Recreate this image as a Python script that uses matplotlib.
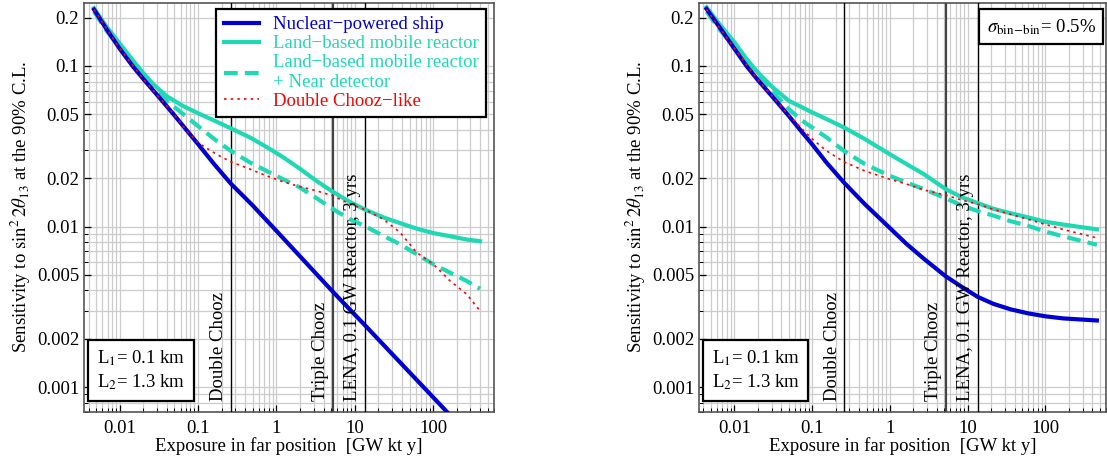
"""Sensitivity to sin^2 2theta13 vs. far-detector exposure: two panels
(left: no bin-to-bin error, right: sigma_bin-bin = 0.5%)."""
import matplotlib

matplotlib.use("Agg")
import matplotlib.pyplot as plt
from matplotlib.ticker import FixedLocator, LogLocator, NullFormatter

plt.rcParams["font.family"] = ["Liberation Serif", "DejaVu Serif"]
plt.rcParams["mathtext.fontset"] = "stix"

# --- data (exposure in GW kt y, sensitivity) ---
# left panel, no bin-to-bin error
ship_x_l = [0.0047, 0.00676, 0.01, 0.0148, 0.02, 0.03, 0.05, 0.1, 0.16, 0.262, 0.5, 1.0, 5.32, 13.8, 150]
ship_y_l = [0.2245, 0.170, 0.128, 0.0990, 0.0830, 0.0660, 0.0492, 0.0326, 0.0245, 0.0185, 0.0135, 0.0094,
            0.0039, 0.0024, 0.000702]

land_x_l = [0.0047, 0.00676, 0.01, 0.0148, 0.02, 0.0267, 0.0395, 0.0644, 0.105, 0.172, 0.262, 0.458,
            0.748, 1.22, 2.0, 3.26, 5.32, 8.7, 13.8, 23.2, 37.8, 61.8, 101, 165, 269, 398]
land_y_l = [0.229, 0.176, 0.138, 0.108, 0.0903, 0.0770, 0.0650, 0.0563, 0.0502, 0.0450, 0.0409, 0.0359,
            0.0313, 0.0270, 0.0229, 0.0192, 0.0164, 0.0142, 0.0127, 0.0114, 0.0105, 0.0097, 0.0091, 0.0087,
            0.0083, 0.0081]

near_x_l = [0.0047, 0.00676, 0.01, 0.0148, 0.02, 0.0267, 0.0395, 0.0644, 0.105, 0.172, 0.262, 0.458,
            0.748, 1.22, 2.0, 3.26, 5.32, 8.7, 13.8, 23.2, 37.8, 61.8, 101, 165, 269, 398]
near_y_l = [0.218, 0.166, 0.1306, 0.1028, 0.0849, 0.0726, 0.0608, 0.0502, 0.0414, 0.0342, 0.0296, 0.0251,
            0.0222, 0.0197, 0.0175, 0.0150, 0.0128, 0.0111, 0.0100, 0.00875, 0.00776, 0.00672, 0.00582,
            0.00516, 0.00458, 0.00410]

dc_x_l = [0.0047, 0.01, 0.02, 0.030, 0.050, 0.0711, 0.105, 0.172, 0.262, 0.458, 0.748, 1.22, 2.0, 3.26,
          5.32, 8.7, 13.8, 23.2, 37.8, 61.8, 101, 165, 269, 398]
dc_y_l = [0.2245, 0.1288, 0.0830, 0.0660, 0.0495, 0.0395, 0.0327, 0.0282, 0.0253, 0.0228, 0.0207, 0.0190,
          0.0177, 0.0167, 0.0155, 0.0138, 0.0127, 0.0111, 0.0092, 0.00689, 0.00582, 0.00458, 0.00379,
          0.00298]

# right panel, sigma_bin-bin = 0.5%
ship_x_r = [0.00438, 0.00662, 0.01, 0.0143, 0.0199, 0.0301, 0.0498, 0.0744, 0.100, 0.153, 0.256, 0.474,
            0.995, 1.63, 2.73, 5.21, 8.45, 13.4, 21.4, 35.7, 59.8, 100, 167, 458]
ship_y_r = [0.2267, 0.171, 0.128, 0.1000, 0.0820, 0.0652, 0.0490, 0.0386, 0.0325, 0.0250, 0.0188, 0.0138,
            0.0098, 0.0078, 0.0063, 0.0049, 0.0042, 0.00365, 0.00330, 0.00305, 0.00288, 0.00276,
            0.00268, 0.00260]

land_x_r = ship_x_r
land_y_r = [0.232, 0.179, 0.1405, 0.1107, 0.0913, 0.0746, 0.0608, 0.0552, 0.0514, 0.0467, 0.0414, 0.0351,
            0.0282, 0.0245, 0.0212, 0.0171, 0.0152, 0.0140, 0.0129, 0.0121, 0.0114, 0.0107, 0.0103, 0.0096]

near_x_r = ship_x_r
near_y_r = [0.218, 0.166, 0.1306, 0.1028, 0.0849, 0.0701, 0.0540, 0.0456, 0.0414, 0.0359, 0.0296, 0.0245,
            0.0207, 0.0188, 0.0171, 0.0150, 0.0135, 0.0125, 0.0117, 0.0108, 0.0101, 0.0093, 0.0087, 0.0077]

dc_x_r = [0.00438, 0.01, 0.0199, 0.0301, 0.0498, 0.0744, 0.100, 0.153, 0.256, 0.474, 0.995, 1.63, 2.73,
          5.21, 8.45, 13.4, 21.4, 35.7, 59.8, 100, 167, 458]
dc_y_r = [0.2245, 0.1288, 0.0825, 0.0655, 0.0495, 0.0405, 0.0351, 0.0296, 0.0253, 0.0222, 0.0197, 0.0184,
          0.0169, 0.0157, 0.0146, 0.0138, 0.0128, 0.0119, 0.0111, 0.0103, 0.0096, 0.0085]

# reference experiments (vertical lines)
exp_names = ["Double Chooz", "Triple Chooz", "LENA, 0.1 GW Reactor, 3 yrs"]
exp_exposure = [0.26, 5.2, 13.4]

x_ticks = [0.01, 0.1, 1, 10, 100]
x_tick_labels = ["0.01", "0.1", "1", "10", "100"]
y_ticks = [0.001, 0.002, 0.005, 0.01, 0.02, 0.05, 0.1, 0.2]
y_tick_labels = ["0.001", "0.002", "0.005", "0.01", "0.02", "0.05", "0.1", "0.2"]

BLUE = "#0000d0"
TEAL = "#1fd9b5"
RED = "#ff0000"
FS = 13.5


def draw_panel(ax, ship, land, near, dc):
    ax.set_xscale("log")
    ax.set_yscale("log")
    ax.set_xlim(0.0035, 600)
    ax.set_ylim(0.0007, 0.248)

    ax.grid(True, which="both", color="#cccccc", lw=0.9, zorder=0)

    ax.plot(*ship, color=BLUE, lw=3, solid_joinstyle="round", label="Nuclear\u2212powered ship", zorder=5)
    ax.plot(*land, color=TEAL, lw=3, solid_joinstyle="round", label="Land\u2212based mobile reactor", zorder=4)
    ax.plot(*near, color=TEAL, lw=3, ls=(0, (3.3, 1.7)),
            label="Land\u2212based mobile reactor\n+ Near detector", zorder=4)
    ax.plot(*dc, color=RED, lw=1.2, ls=(0, (1.5, 2.5)), label="Double Chooz\u2212like", zorder=6)

    for name, xv in zip(exp_names, exp_exposure):
        is_triple = name.startswith("Triple")
        ax.axvline(xv, color="#444444" if is_triple else "black", lw=1.6 if is_triple else 1.0, zorder=3)
        ax.text(xv / 1.1, 0.00082, name, rotation=90, ha="right", va="bottom",
                fontsize=FS, zorder=7)

    ax.xaxis.set_major_locator(FixedLocator(x_ticks))
    ax.set_xticklabels(x_tick_labels)
    ax.xaxis.set_minor_locator(LogLocator(base=10, subs=range(2, 10), numticks=20))
    ax.xaxis.set_minor_formatter(NullFormatter())
    ax.yaxis.set_major_locator(FixedLocator(y_ticks))
    ax.set_yticklabels(y_tick_labels)
    ax.yaxis.set_minor_locator(LogLocator(base=10, subs=range(2, 10), numticks=20))
    ax.yaxis.set_minor_formatter(NullFormatter())
    ax.tick_params(which="both", direction="in", labelsize=FS, color="black")
    ax.tick_params(which="major", length=5, width=0.9)
    ax.tick_params(which="minor", length=3, width=0.7)
    ax.tick_params(axis="x", pad=6)

    for sp in ax.spines.values():
        sp.set_color("#555555")
        sp.set_linewidth(1.2)

    ax.set_xlabel("Exposure in far position  [GW kt y]", fontsize=FS, labelpad=0)
    ax.set_ylabel(r"Sensitivity to $\sin^2 2\theta_{13}$ at the 90% C.L.", fontsize=FS, labelpad=3)

    ax.text(0.031, 0.048, "L$_1$= 0.1 km\nL$_2$= 1.3 km", transform=ax.transAxes,
            fontsize=FS, linespacing=1.3, ha="left", va="bottom", zorder=8,
            bbox=dict(boxstyle="square,pad=0.45", fc="white", ec="black", lw=1.6))


fig = plt.figure(figsize=(11.07, 4.61), dpi=100)
ax_l = fig.add_axes([0.0759, 0.1063, 0.3704, 0.888])
ax_r = fig.add_axes([0.6314, 0.1063, 0.3677, 0.888])

draw_panel(ax_l, (ship_x_l, ship_y_l), (land_x_l, land_y_l), (near_x_l, near_y_l), (dc_x_l, dc_y_l))
draw_panel(ax_r, (ship_x_r, ship_y_r), (land_x_r, land_y_r), (near_x_r, near_y_r), (dc_x_r, dc_y_r))

leg = ax_l.legend(loc="upper right", bbox_to_anchor=(0.98, 0.985), borderaxespad=0, fontsize=FS,
                  frameon=True, fancybox=False, edgecolor="black", framealpha=1, labelcolor="linecolor",
                  handlelength=1.9, handletextpad=0.7, labelspacing=0.1, borderpad=0.4)
leg.get_frame().set_linewidth(1.6)
leg.set_zorder(10)

ax_r.text(0.975, 0.965, r"$\sigma_{\rm bin\!-\!bin}$= 0.5%", transform=ax_r.transAxes,
          fontsize=FS, ha="right", va="top", zorder=8,
          bbox=dict(boxstyle="square,pad=0.4", fc="white", ec="black", lw=1.6))

fig.savefig("out.png", dpi=100)
